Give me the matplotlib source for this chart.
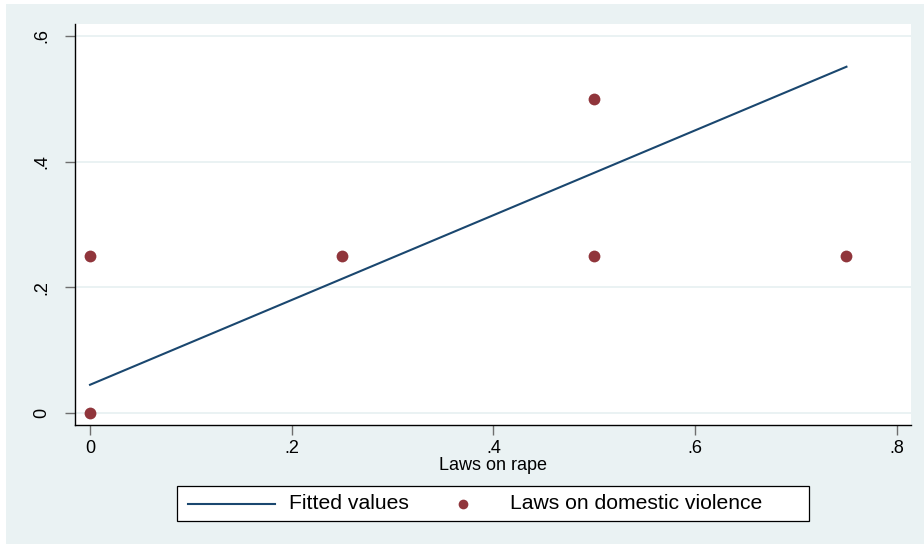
import matplotlib
matplotlib.use("Agg")
import matplotlib.pyplot as plt
from matplotlib.patches import Rectangle
from matplotlib.lines import Line2D

plt.rcParams['font.family'] = ['Liberation Sans', 'DejaVu Sans']

# Observations: laws on rape vs. laws on domestic violence
rape_laws = [0.0, 0.0, 0.25, 0.5, 0.5, 0.75]
dv_laws = [0.0, 0.25, 0.25, 0.5, 0.25, 0.25]

# Linear fit (fitted values at the ends of the observed range)
fit_x = [0.0, 0.75]
fit_y = [0.045, 0.551]

x_ticks = [0, 0.2, 0.4, 0.6, 0.8]
x_labels = ['0', '.2', '.4', '.6', '.8']
y_ticks = [0, 0.2, 0.4, 0.6]
y_labels = ['0', '.2', '.4', '.6']

series_names = ['Fitted values', 'Laws on domestic violence']

BG = '#eaf2f3'
LINE_C = '#1a476f'
DOT_C = '#90353b'
W, H = 924, 544


def fx(px):
    return px / W


def fy(py):
    return 1 - py / H


fig = plt.figure(figsize=(W / 100, H / 100), dpi=100)
fig.patch.set_facecolor('white')
# graph region fill, with a thin white margin on the top and left
fig.add_artist(Rectangle((fx(6), 0), 1 - fx(6), fy(4),
                         transform=fig.transFigure, facecolor=BG,
                         edgecolor='none', zorder=0))

ax = fig.add_axes([fx(75), fy(425), fx(911 - 75), (425 - 24) / H])
ax.set_facecolor('white')
ax.set_xlim(-0.0149, 0.814)
ax.set_ylim(-0.019, 0.619)

for s in ('top', 'right'):
    ax.spines[s].set_visible(False)
for s in ('left', 'bottom'):
    ax.spines[s].set_color('black')
    ax.spines[s].set_linewidth(1.0)

ax.set_yticks(y_ticks)
ax.set_yticklabels(y_labels, rotation=90, va='center')
ax.set_xticks(x_ticks)
ax.set_xticklabels(x_labels)
ax.tick_params(axis='both', direction='out', length=7, width=1.0,
               color='#6e6e6e', labelsize=13)
ax.tick_params(axis='y', pad=11)
ax.tick_params(axis='x', pad=4)
ax.grid(axis='y', color=BG, linewidth=1.4)
ax.set_axisbelow(True)

ax.plot(fit_x, fit_y, color=LINE_C, lw=1.5, zorder=3)
ax.plot(rape_laws, dv_laws, linestyle='none', marker='o',
        markersize=8.5, color=DOT_C, markeredgewidth=0, zorder=4)

ax.set_xlabel('Laws on rape', fontsize=13, labelpad=0)

# legend box below the plot, laid out in pixel positions
fig.add_artist(Rectangle((fx(177), fy(521)), fx(809 - 177), (521 - 486) / H,
                         transform=fig.transFigure, facecolor='white',
                         edgecolor='black', linewidth=0.9, zorder=5))
y_leg = fy(503.5)
fig.add_artist(Line2D([fx(188), fx(275)], [y_leg, y_leg],
                      transform=fig.transFigure, color=LINE_C, lw=1.5,
                      zorder=6))
fig.add_artist(Line2D([fx(463)], [y_leg], transform=fig.transFigure,
                      linestyle='none', marker='o', markersize=7,
                      color=DOT_C, markeredgewidth=0, zorder=6))
fig.text(fx(289), y_leg, series_names[0], fontsize=15.2, ha='left',
         va='center', zorder=7)
fig.text(fx(510), y_leg, series_names[1], fontsize=15.2, ha='left',
         va='center', zorder=7)

fig.savefig('out.png', dpi=100)
